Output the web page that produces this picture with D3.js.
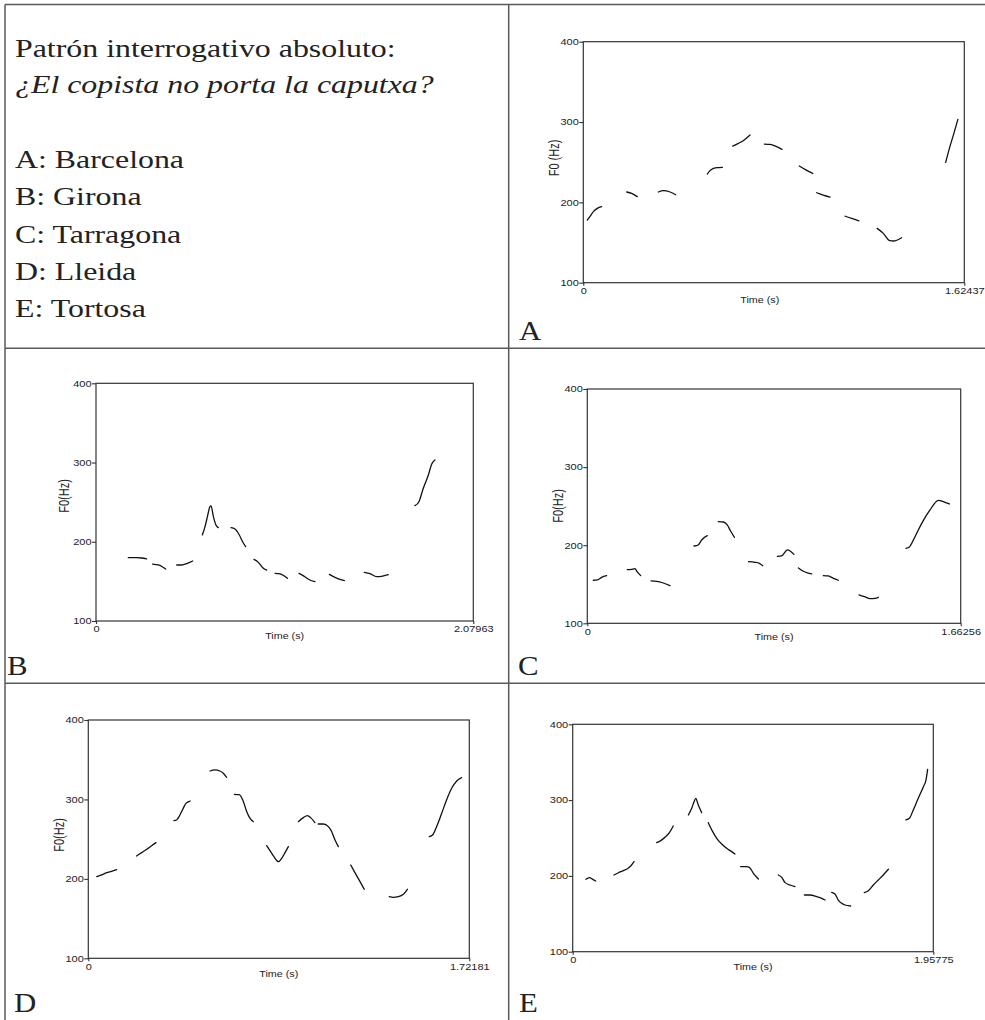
<!DOCTYPE html>
<html><head><meta charset="utf-8">
<script src="https://cdn.jsdelivr.net/npm/d3@7"></script>
<style>body{margin:0;background:#fff} svg{display:block}</style>
</head><body><svg id="c" width="985" height="1020"></svg>
<script>
// ---------- DATA ----------
const titleLine = "Patrón interrogativo absoluto:";
const sentence = "¿El copista no porta la caputxa?";
const panelLetters = ["A","B","C","D","E"];
const cityNames = ["Barcelona","Girona","Tarragona","Lleida","Tortosa"];
const durations = [1.62437, 2.07963, 1.66256, 1.72181, 1.95775];
const durationLabels = ["1.62437","2.07963","1.66256","1.72181","1.95775"];
const yTicks = [100, 200, 300, 400];
const yAxisTitles = ["F0 (Hz)","F0(Hz)","F0(Hz)","F0(Hz)",""];
const xAxisTitle = "Time (s)";

// F0 contours: voiced stretches of [time (s), F0 (Hz)]
const contourA = [
 [[0.017,178.0],[0.028,182.2],[0.043,188.4],[0.060,192.5],[0.078,194.6]],
 [[0.185,212.9],[0.206,211.2],[0.230,207.1]],
 [[0.320,212.9],[0.341,214.5],[0.370,212.9],[0.394,209.5]],
 [[0.529,235.3],[0.543,240.3],[0.569,243.2],[0.593,243.6]],
 [[0.637,270.1],[0.661,273.4],[0.682,276.8],[0.711,283.8]],
 [[0.772,272.6],[0.796,272.2],[0.824,269.3],[0.847,266.0]],
 [[0.921,245.2],[0.945,241.1],[0.978,236.1]],
 [[0.995,212.0],[1.023,209.1],[1.052,206.6]],
 [[1.116,182.8],[1.144,180.0],[1.175,177.1]],
 [[1.253,167.6],[1.279,161.4],[1.307,152.3],[1.322,151.9],[1.357,156.0]],
 [[1.545,249.8],[1.563,269.3],[1.580,285.9],[1.597,303.3]]
];
const contourB = [
 [[0.178,179.9],[0.224,179.9],[0.252,179.5],[0.279,178.3]],
 [[0.312,171.9],[0.344,170.7],[0.367,168.2],[0.384,165.6]],
 [[0.445,170.7],[0.472,170.7],[0.500,172.4],[0.533,175.7]],
 [[0.586,208.6],[0.601,219.1],[0.614,231.7],[0.628,244.3],[0.634,245.2],[0.647,231.7],[0.661,221.2],[0.674,217.8]],
 [[0.744,217.8],[0.766,216.1],[0.790,208.6],[0.808,200.1],[0.825,193.8]],
 [[0.871,177.8],[0.895,174.0],[0.919,167.3],[0.941,164.3]],
 [[0.987,160.1],[1.014,159.6],[1.036,157.1],[1.055,153.8]],
 [[1.119,160.1],[1.146,156.7],[1.176,152.1],[1.207,149.6]],
 [[1.286,158.9],[1.317,155.1],[1.345,152.6],[1.369,150.9]],
 [[1.479,161.4],[1.510,159.8],[1.547,156.0],[1.574,156.4],[1.611,158.5]],
 [[1.758,245.6],[1.780,250.6],[1.804,267.5],[1.832,284.3],[1.850,297.8],[1.868,303.2]]
];
const contourC = [
 [[0.027,155.1],[0.045,155.5],[0.064,158.9],[0.086,161.0]],
 [[0.178,168.6],[0.197,169.0],[0.212,169.9],[0.223,165.6],[0.238,161.0]],
 [[0.284,154.2],[0.309,153.7],[0.338,151.6],[0.368,148.2]],
 [[0.475,199.0],[0.494,200.3],[0.509,206.7],[0.534,212.2]],
 [[0.583,230.2],[0.606,229.7],[0.623,225.9],[0.638,218.2],[0.655,210.1]],
 [[0.718,178.9],[0.747,178.1],[0.766,176.8],[0.781,173.8]],
 [[0.846,185.8],[0.865,186.2],[0.891,193.9],[0.903,192.6],[0.920,188.3]],
 [[0.940,170.9],[0.962,166.6],[0.980,164.5],[0.999,163.2]],
 [[1.051,161.0],[1.073,160.6],[1.096,157.6],[1.118,155.1]],
 [[1.210,136.3],[1.237,133.7],[1.259,131.6],[1.281,132.0],[1.296,133.3]],
 [[1.419,196.0],[1.434,197.7],[1.459,210.9],[1.489,228.0],[1.526,245.1],[1.563,257.5],[1.585,255.8],[1.612,252.8]]
];
const contourD = [
 [[0.038,202.8],[0.060,204.9],[0.083,207.8],[0.105,209.5],[0.128,211.6]],
 [[0.218,228.8],[0.241,233.0],[0.264,237.2],[0.286,241.8],[0.306,245.6]],
 [[0.387,273.3],[0.399,274.1],[0.414,280.4],[0.429,288.8],[0.441,295.1],[0.460,298.0]],
 [[0.550,335.8],[0.572,337.1],[0.595,335.8],[0.610,332.9],[0.625,327.8]],
 [[0.660,306.4],[0.682,306.0],[0.698,299.3],[0.716,284.6],[0.731,276.2],[0.746,272.0]],
 [[0.806,241.8],[0.824,234.3],[0.839,228.0],[0.859,221.7],[0.874,225.9],[0.889,233.0],[0.904,240.6]],
 [[0.949,272.0],[0.972,277.1],[0.990,279.6],[1.005,277.1],[1.024,270.8]],
 [[1.039,269.1],[1.062,269.1],[1.085,265.7],[1.100,259.4],[1.115,248.9],[1.130,240.6]],
 [[1.186,217.5],[1.205,207.8],[1.228,196.5],[1.247,186.9]],
 [[1.360,177.6],[1.378,176.8],[1.401,177.6],[1.424,180.6],[1.442,186.9]],
 [[1.541,253.1],[1.556,255.2],[1.574,265.7],[1.597,282.5],[1.619,299.3],[1.642,314.0],[1.665,323.2],[1.687,327.4]]
];
const contourE = [
 [[0.072,195.5],[0.091,197.7],[0.109,195.5],[0.125,193.3]],
 [[0.224,201.2],[0.248,204.2],[0.275,206.9],[0.297,209.5],[0.315,213.0],[0.333,218.8]],
 [[0.456,243.8],[0.478,246.5],[0.501,250.9],[0.525,257.0],[0.546,265.8]],
 [[0.628,280.4],[0.646,289.2],[0.659,297.9],[0.668,302.3],[0.682,293.5],[0.700,283.4]],
 [[0.736,270.2],[0.760,258.4],[0.782,249.6],[0.809,242.1],[0.836,236.4],[0.863,232.0],[0.881,228.9]],
 [[0.912,212.2],[0.944,212.2],[0.959,211.3],[0.981,203.4],[1.008,195.9]],
 [[1.116,201.2],[1.135,198.1],[1.153,191.1],[1.180,188.0],[1.207,185.8]],
 [[1.258,174.8],[1.288,174.8],[1.325,172.6],[1.352,170.4],[1.370,168.2]],
 [[1.406,178.3],[1.424,176.1],[1.442,168.2],[1.460,163.8],[1.478,161.6],[1.509,160.3]],
 [[1.583,177.9],[1.605,180.5],[1.632,188.0],[1.659,194.6],[1.686,201.2],[1.714,208.7]],
 [[1.809,273.8],[1.828,276.0],[1.849,287.0],[1.876,302.4],[1.904,317.7],[1.918,326.5],[1.927,340.6]]
];
const contours = [contourA, contourB, contourC, contourD, contourE];

// ---------- LAYOUT ----------
const SX = 1.25; // horizontal stretch of the original figure's text
const boxes = [
 {x0:583.3, x1:964.3, y0:41.7,  y1:282.7, lx:519, ly:340, tshift:-14, tdy:17, fx:555, fy:158},
 {x0:96,    x1:473.3, y0:383.3, y1:621,   lx:7,   ly:675, tshift:0,   tdy:15, fx:65,  fy:496},
 {x0:587.3, x1:960.7, y0:389,   y1:623.3, lx:518, ly:675, tshift:0,   tdy:14, fx:559, fy:506},
 {x0:88.3,  x1:469.3, y0:720,   y1:958.3, lx:14,  ly:1012,tshift:0,   tdy:16, fx:60,  fy:835},
 {x0:572.7, x1:933.3, y0:724.3, y1:951.7, lx:519, ly:1012,tshift:0,   tdy:15, fx:0,   fy:0}
];

const svg = d3.select("#c");
svg.append("rect").attr("width",985).attr("height",1020).attr("fill","#fff");

// table grid
const grid = svg.append("g").attr("stroke","#5a5a5a").attr("stroke-width",1.5);
[[5,4.5,992,4.5],[5,4.5,5,1030],[508.7,4.5,508.7,1030],[5,348.3,992,348.3],[5,683.3,992,683.3]]
 .forEach(l => grid.append("line").attr("x1",l[0]).attr("y1",l[1]).attr("x2",l[2]).attr("y2",l[3]));

const serif = "'Liberation Serif','Times New Roman',serif";
const sans = "'Liberation Sans',Arial,sans-serif";

function stext(g, x, y, str, size, opts={}) {
  return g.append("text")
    .attr("transform", `translate(${x},${y}) scale(${opts.sx||SX},1)`)
    .attr("font-family", opts.family || serif)
    .attr("font-size", size)
    .attr("font-style", opts.italic ? "italic" : "normal")
    .attr("text-anchor", opts.anchor || "start")
    .attr("fill", opts.fill || "#222")
    .text(str);
}

// top-left text block
const tb = svg.append("g");
stext(tb, 15, 57, titleLine, 25.5);
stext(tb, 15, 93, sentence, 25.5, {italic:true});
panelLetters.forEach((L, i) => stext(tb, 15, 168.3 + i*37.1, `${L}: ${cityNames[i]}`, 25.5));

// panels
const line = d3.line().curve(d3.curveMonotoneX);
contours.forEach((segs, i) => {
  const b = boxes[i];
  const x = d3.scaleLinear().domain([0, durations[i]]).range([b.x0, b.x1]);
  const y = d3.scaleLinear().domain([100, 400]).range([b.y1, b.y0]);
  const g = svg.append("g");

  g.append("rect").attr("x", b.x0).attr("y", b.y0)
    .attr("width", b.x1 - b.x0).attr("height", b.y1 - b.y0)
    .attr("fill", "none").attr("stroke", "#333").attr("stroke-width", 1.2);

  const ya = g.append("g").attr("transform", `translate(${b.x0},0)`)
    .call(d3.axisLeft(y).tickValues(yTicks).tickSize(4).tickFormat(d3.format("d")));
  const xa = g.append("g").attr("transform", `translate(0,${b.y1})`)
    .call(d3.axisBottom(x).tickValues([0, durations[i]]).tickSize(3)
      .tickFormat((d, j) => j ? durationLabels[i] : "0"));
  [ya, xa].forEach(a => {
    a.select(".domain").remove();
    a.selectAll(".tick line").attr("stroke", "#333").attr("stroke-width", 1.1);
    a.selectAll(".tick text").attr("font-family", sans).attr("font-size", 8.8)
      .attr("fill", "#222").attr("transform", `scale(${SX},1)`);
  });
  ya.selectAll(".tick text").attr("x", -4.5 / SX);
  xa.selectAll(".tick text").attr("y", 5);

  stext(g, (b.x0 + b.x1) / 2 + b.tshift, b.y1 + b.tdy + 3, xAxisTitle, 8.6,
        {family: sans, anchor: "middle", fill: "#222"});
  if (yAxisTitles[i]) {
    g.append("text")
      .attr("transform", `translate(${b.fx + 3.5},${b.fy}) scale(${SX},1) rotate(-90)`)
      .attr("font-family", sans).attr("font-size", 11).attr("fill", "#222")
      .attr("text-anchor", "middle").text(yAxisTitles[i]);
  }
  stext(g, b.lx, b.ly, panelLetters[i], 28, {sx: 1.1});

  g.append("g").selectAll("path").data(segs).join("path")
    .attr("d", s => line(s.map(p => [x(p[0]), y(p[1])])))
    .attr("fill", "none").attr("stroke", "#111").attr("stroke-width", 1.3)
    .attr("stroke-linecap", "round").attr("stroke-linejoin", "round");
});
</script></body></html>
